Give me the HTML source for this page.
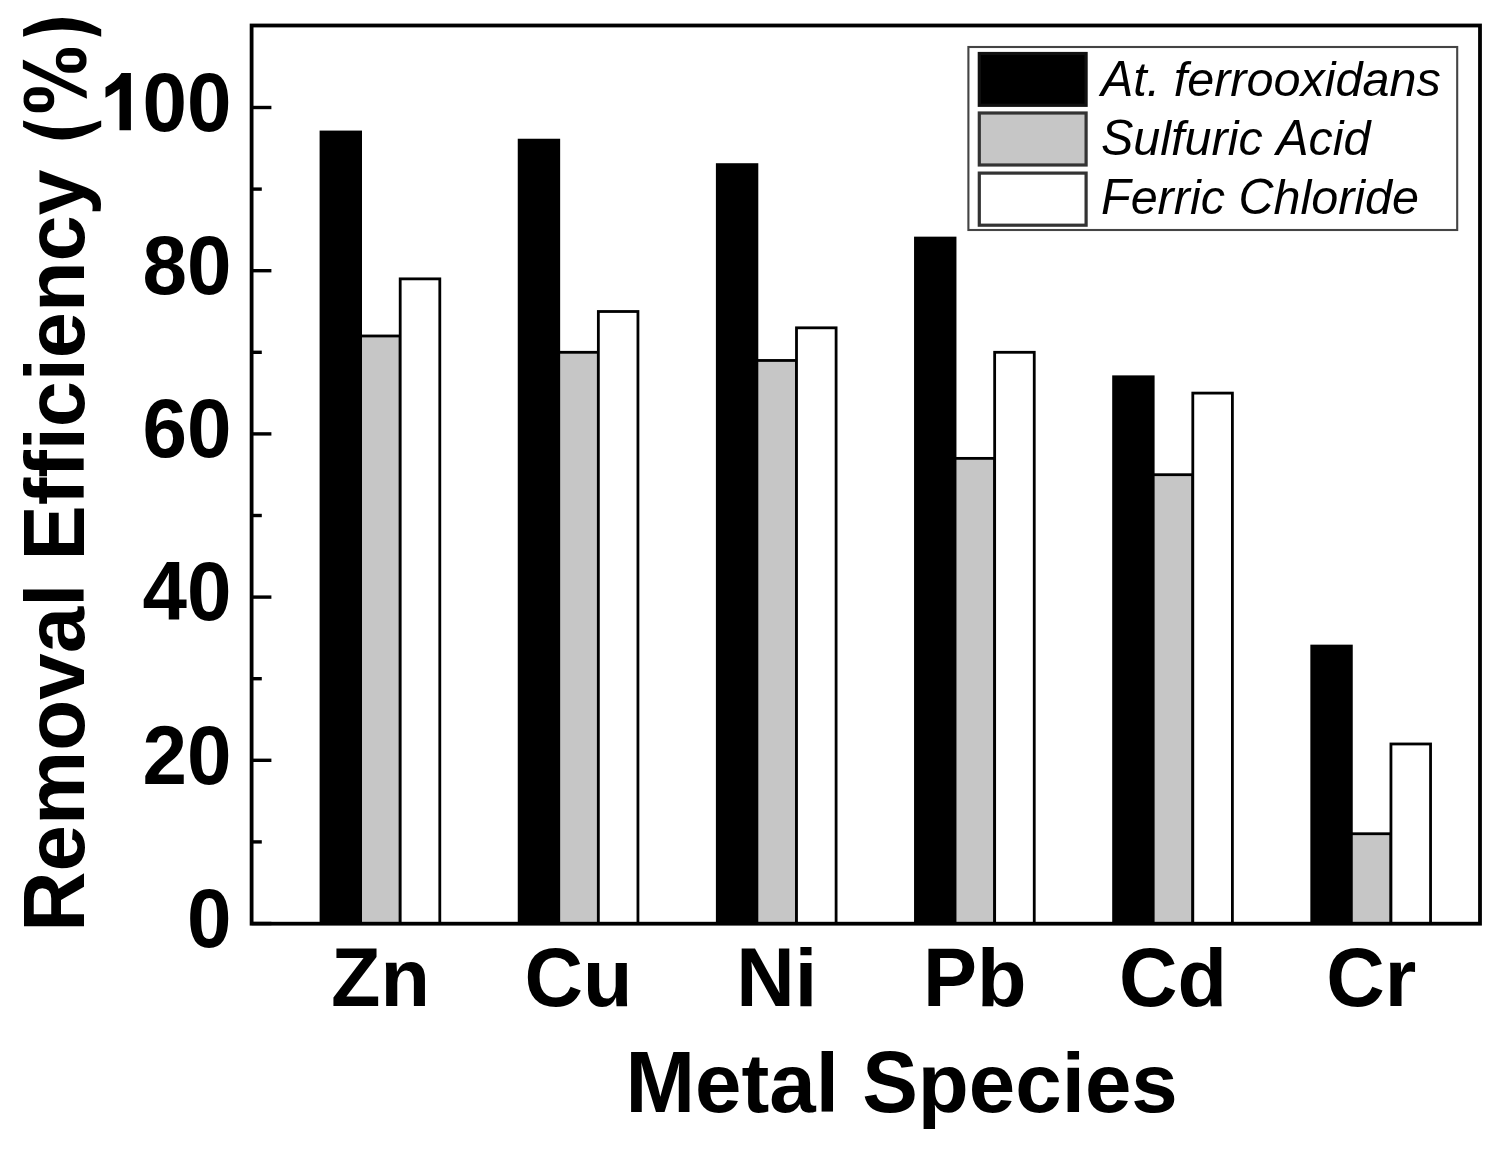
<!DOCTYPE html><html><head><meta charset="utf-8"><style>html,body{margin:0;padding:0;background:#fff;}svg{display:block;}text{font-family:"Liberation Sans",sans-serif;font-kerning:none;font-variant-ligatures:none;}</style></head><body>
<svg width="1492" height="1150" viewBox="0 0 1492 1150">
<rect width="1492" height="1150" fill="#fff"/>
<rect x="321.00" y="131.98" width="39.60" height="791.52" fill="#000" stroke="#000" stroke-width="2.8"/>
<rect x="360.60" y="335.98" width="39.60" height="587.52" fill="#c6c6c6" stroke="#000" stroke-width="2.8"/>
<rect x="400.20" y="278.86" width="39.60" height="644.64" fill="#fff" stroke="#000" stroke-width="2.8"/>
<rect x="519.15" y="140.14" width="39.60" height="783.36" fill="#000" stroke="#000" stroke-width="2.8"/>
<rect x="558.75" y="352.30" width="39.60" height="571.20" fill="#c6c6c6" stroke="#000" stroke-width="2.8"/>
<rect x="598.35" y="311.50" width="39.60" height="612.00" fill="#fff" stroke="#000" stroke-width="2.8"/>
<rect x="717.30" y="164.62" width="39.60" height="758.88" fill="#000" stroke="#000" stroke-width="2.8"/>
<rect x="756.90" y="360.46" width="39.60" height="563.04" fill="#c6c6c6" stroke="#000" stroke-width="2.8"/>
<rect x="796.50" y="327.82" width="39.60" height="595.68" fill="#fff" stroke="#000" stroke-width="2.8"/>
<rect x="915.45" y="238.06" width="39.60" height="685.44" fill="#000" stroke="#000" stroke-width="2.8"/>
<rect x="955.05" y="458.38" width="39.60" height="465.12" fill="#c6c6c6" stroke="#000" stroke-width="2.8"/>
<rect x="994.65" y="352.30" width="39.60" height="571.20" fill="#fff" stroke="#000" stroke-width="2.8"/>
<rect x="1113.60" y="376.78" width="39.60" height="546.72" fill="#000" stroke="#000" stroke-width="2.8"/>
<rect x="1153.20" y="474.70" width="39.60" height="448.80" fill="#c6c6c6" stroke="#000" stroke-width="2.8"/>
<rect x="1192.80" y="393.10" width="39.60" height="530.40" fill="#fff" stroke="#000" stroke-width="2.8"/>
<rect x="1311.75" y="646.06" width="39.60" height="277.44" fill="#000" stroke="#000" stroke-width="2.8"/>
<rect x="1351.35" y="833.74" width="39.60" height="89.76" fill="#c6c6c6" stroke="#000" stroke-width="2.8"/>
<rect x="1390.95" y="743.98" width="39.60" height="179.52" fill="#fff" stroke="#000" stroke-width="2.8"/>
<line x1="251.60" y1="923.50" x2="271.40" y2="923.50" stroke="#000" stroke-width="3.4"/>
<line x1="251.60" y1="841.90" x2="261.80" y2="841.90" stroke="#000" stroke-width="3.4"/>
<line x1="251.60" y1="760.30" x2="271.40" y2="760.30" stroke="#000" stroke-width="3.4"/>
<line x1="251.60" y1="678.70" x2="261.80" y2="678.70" stroke="#000" stroke-width="3.4"/>
<line x1="251.60" y1="597.10" x2="271.40" y2="597.10" stroke="#000" stroke-width="3.4"/>
<line x1="251.60" y1="515.50" x2="261.80" y2="515.50" stroke="#000" stroke-width="3.4"/>
<line x1="251.60" y1="433.90" x2="271.40" y2="433.90" stroke="#000" stroke-width="3.4"/>
<line x1="251.60" y1="352.30" x2="261.80" y2="352.30" stroke="#000" stroke-width="3.4"/>
<line x1="251.60" y1="270.70" x2="271.40" y2="270.70" stroke="#000" stroke-width="3.4"/>
<line x1="251.60" y1="189.10" x2="261.80" y2="189.10" stroke="#000" stroke-width="3.4"/>
<line x1="251.60" y1="107.50" x2="271.40" y2="107.50" stroke="#000" stroke-width="3.4"/>
<rect x="251.60" y="25.50" width="1228.40" height="898.20" fill="none" stroke="#000" stroke-width="3.8"/>
<text transform="translate(231.60,946.80) scale(1,1.035)" font-size="80" font-weight="bold" text-anchor="end">0</text>
<text transform="translate(231.60,783.60) scale(1,1.035)" font-size="80" font-weight="bold" text-anchor="end">20</text>
<text transform="translate(231.60,620.40) scale(1,1.035)" font-size="80" font-weight="bold" text-anchor="end">40</text>
<text transform="translate(231.60,457.20) scale(1,1.035)" font-size="80" font-weight="bold" text-anchor="end">60</text>
<text transform="translate(231.60,294.00) scale(1,1.035)" font-size="80" font-weight="bold" text-anchor="end">80</text>
<text transform="translate(231.60,130.80) scale(1,1.035)" font-size="80" font-weight="bold" text-anchor="end">00</text>
<path d="M130.9,73.1 L130.9,130.3 L119.5,130.3 L119.5,89 Q113,94 105.5,97.7 L105.5,87.2 Q116,82 121.5,73.1 Z" fill="#000"/>
<text transform="translate(330.92,1005.60) scale(1.0000,1.04)" font-size="81" font-weight="bold">Z</text>
<text x="380.40" y="1005.60" font-size="81" font-weight="bold">n</text>
<text transform="translate(524.56,1005.60) scale(1.0000,1.04)" font-size="81" font-weight="bold">C</text>
<text x="583.06" y="1005.60" font-size="81" font-weight="bold">u</text>
<text transform="translate(736.20,1005.60) scale(1.0000,1.04)" font-size="81" font-weight="bold">N</text>
<text x="794.70" y="1005.60" font-size="81" font-weight="bold">i</text>
<text transform="translate(923.10,1005.60) scale(1.0000,1.04)" font-size="81" font-weight="bold">P</text>
<text x="977.12" y="1005.60" font-size="81" font-weight="bold">b</text>
<text transform="translate(1119.01,1005.60) scale(1.0000,1.04)" font-size="81" font-weight="bold">C</text>
<text x="1177.51" y="1005.60" font-size="81" font-weight="bold">d</text>
<text transform="translate(1326.14,1005.60) scale(1.0000,1.04)" font-size="81" font-weight="bold">C</text>
<text x="1384.64" y="1005.60" font-size="81" font-weight="bold">r</text>
<text transform="translate(625.51,1111.60) scale(1.0000,1.04)" font-size="83.5" font-weight="bold">M</text>
<text x="695.07" y="1111.60" font-size="83.5" font-weight="bold">etal </text>
<text transform="translate(862.15,1111.60) scale(1.0000,1.04)" font-size="83.5" font-weight="bold">S</text>
<text x="917.85" y="1111.60" font-size="83.5" font-weight="bold">pecies</text>
<g transform="translate(83.80,931.69) rotate(-90)">
<text transform="translate(0.00,0.00) scale(1.0000,1.04)" font-size="83.5" font-weight="bold">R</text>
<text x="60.30" y="0.00" font-size="83.5" font-weight="bold">emoval</text>
</g>
<g transform="translate(83.80,560.54) rotate(-90) scale(0.9917,1)">
<text transform="translate(0.00,0.00) scale(1.0000,1.04)" font-size="83.5" font-weight="bold">E</text>
<text x="55.69" y="0.00" font-size="83.5" font-weight="bold">fficiency</text>
</g>
<path d="M23.1,29.3 Q62.1,6.9 101.2,29.3 L101.2,36.8 Q62.1,22.2 23.1,36.8 Z" fill="#000"/>
<path d="M23.1,120.4 Q62.1,136.2 101.2,120.4 L101.2,126.8 Q62.1,152 23.1,126.8 Z" fill="#000"/>
<path d="M22.9,59.5 L86.5,91.1 L86.9,98.8 L22.9,68.5 Z" fill="#000"/>
<rect x="55.9" y="48" width="30.6" height="24.7" rx="12.5" ry="11" fill="#000"/><rect x="61.1" y="55.65" width="18.5" height="9.05" rx="4.5" ry="4.5" fill="#fff"/>
<rect x="23.6" y="87.3" width="30.6" height="25" rx="12.5" ry="11" fill="#000"/><rect x="29.1" y="95.3" width="18.8" height="9" rx="4.5" ry="4.5" fill="#fff"/>
<rect x="968.4" y="47" width="488.8" height="183" fill="#fff" stroke="#444" stroke-width="2.1"/>
<rect x="979.3" y="53.5" width="106.8" height="51.8" fill="#000" stroke="#111" stroke-width="3.2"/>
<rect x="979.3" y="113" width="106.8" height="52" fill="#c6c6c6" stroke="#333" stroke-width="3.2"/>
<rect x="979.3" y="173.1" width="106.8" height="52.1" fill="#fff" stroke="#333" stroke-width="3.2"/>
<text transform="translate(1101.00,96.20) scale(1.0000,1.04)" font-size="48.5" font-style="italic">A</text>
<text x="1133.35" y="96.20" font-size="48.5" font-style="italic">t. ferrooxidans</text>
<text transform="translate(1101.00,155.30) scale(1.0000,1.04)" font-size="48.5" font-style="italic">S</text>
<text x="1133.35" y="155.30" font-size="48.5" font-style="italic">ulfuric </text>
<text transform="translate(1276.20,155.30) scale(1.0000,1.04)" font-size="48.5" font-style="italic">A</text>
<text x="1308.55" y="155.30" font-size="48.5" font-style="italic">cid</text>
<text transform="translate(1101.00,214.30) scale(1.0000,1.04)" font-size="48.5" font-style="italic">F</text>
<text x="1130.63" y="214.30" font-size="48.5" font-style="italic">erric </text>
<text transform="translate(1238.40,214.30) scale(1.0000,1.04)" font-size="48.5" font-style="italic">C</text>
<text x="1273.43" y="214.30" font-size="48.5" font-style="italic">hloride</text>
</svg></body></html>
